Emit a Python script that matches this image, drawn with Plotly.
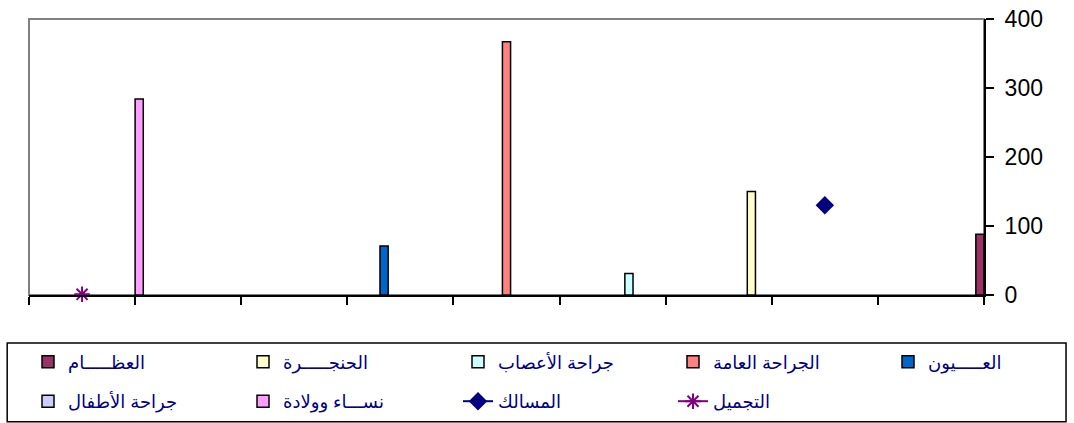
import plotly.graph_objects as go

# ---- data ----
categories = ["1", "2", "3", "4", "5", "6", "7", "8", "9"]

bar_names = ["نســـاء وولادة", "جراحة الأطفال", "العـــــيون", "الجراحة العامة",
             "جراحة الأعصاب", "الحنجـــــرة", "العظـــــام"]
bar_colors = ["#FF9EFF", "#CCCCFF", "#0066CC", "#FF8080", "#CCFFFF", "#FFFFCC", "#993366"]
bar_values = [
    [None, 284, None, None, None, None, None, None, None],   # نساء وولادة
    [None, None, None, None, None, None, None, None, None],  # جراحة الأطفال (no visible bar)
    [None, None, None, 71, None, None, None, None, None],    # العيون
    [None, None, None, None, 367, None, None, None, None],   # الجراحة العامة
    [None, None, None, None, None, 31, None, None, None],    # جراحة الأعصاب
    [None, None, None, None, None, None, 150, None, None],   # الحنجرة
    [None, None, None, None, None, None, None, None, 88],    # العظام
]

line_names = ["المسالك", "التجميل"]
line_colors = ["#000080", "#800080"]
line_symbols = ["diamond", "asterisk-open"]
line_values = [
    [None, None, None, None, None, None, None, 130, None],   # المسالك
    [1, None, None, None, None, None, None, None, None],     # التجميل
]

y_ticks = [0, 100, 200, 300, 400]

# legend placement (legend id, rank) per series
bar_legend = [("legend2", 2), ("legend2", 1), ("legend3", 1), ("legend", 4),
              ("legend", 3), ("legend", 2), ("legend", 1)]
line_legend = [("legend2", 3), ("legend2", 4)]

# ---- figure ----
FONT = "Arial, Liberation Sans, DejaVu Sans, sans-serif"
W, H = 1074, 423
ML, MR, MT, MB = 29.3, 90, 18.5, 128.3
PW, PH = W - ML - MR, H - MT - MB
xpos = list(range(len(categories)))
n_bars = len(bar_names)
slot = 1.0 / (2 * n_bars - 1)

fig = go.Figure()
for k, (name, col, vals) in enumerate(zip(bar_names, bar_colors, bar_values)):
    lg, rank = bar_legend[k]
    fig.add_trace(go.Bar(
        x=xpos, y=vals, name=name,
        width=slot, offset=-0.5 + 2 * k * slot,
        marker=dict(color=col, line=dict(color="black", width=1.5)),
        legend=lg, legendrank=rank,
    ))

for k, (name, col, sym, vals) in enumerate(zip(line_names, line_colors, line_symbols, line_values)):
    lg, rank = line_legend[k]
    fig.add_trace(go.Scatter(
        x=xpos, y=vals, name=name, mode="lines+markers",
        line=dict(color=col, width=2),
        marker=dict(symbol=sym, size=12 if sym == "diamond" else 13, color=col,
                    line=dict(color=col, width=2)),
        legend=lg, legendrank=rank, cliponaxis=False,
    ))

axis_common = dict(showgrid=False, zeroline=False)
leg_common = dict(orientation="h", xref="container", yref="container",
                  xanchor="left", yanchor="middle",
                  entrywidth=170, entrywidthmode="pixels", traceorder="normal",
                  font=dict(size=18, family=FONT, color="#000080"),
                  bgcolor="rgba(0,0,0,0)")
col_w = 215
x_first = 28

def px_x(p):
    return (p - ML) / PW

def px_y(p):
    return (H - MB - p) / PH

fig.update_layout(
    width=W, height=H,
    margin=dict(l=ML, r=MR, t=MT, b=MB, autoexpand=False),
    paper_bgcolor="white", plot_bgcolor="white",
    barmode="overlay",
    font=dict(family=FONT, color="black"),
    xaxis=dict(range=[-0.5, len(categories) - 0.5], tick0=-0.5, dtick=1,
               showticklabels=False, showline=True, linecolor="black", linewidth=2,
               ticks="outside", ticklen=8, tickwidth=2, tickcolor="black",
               fixedrange=True, **axis_common),
    xaxis2=dict(overlaying="x", matches="x", anchor="y", tick0=-0.5, dtick=1,
                showticklabels=False, showline=False,
                ticks="inside", ticklen=8, tickwidth=2, tickcolor="black",
                **axis_common),
    yaxis=dict(side="right", range=[0, 400], tickvals=y_ticks,
               showline=True, linecolor="black", linewidth=2,
               ticks="outside", ticklen=8, tickwidth=2, tickcolor="black",
               tickfont=dict(size=23, family=FONT, color="black"),
               ticklabelstandoff=6, ticklabeloverflow="allow", **axis_common),
    yaxis2=dict(overlaying="y", matches="y", side="right", anchor="x", tickvals=y_ticks,
                showticklabels=False, showline=False,
                ticks="inside", ticklen=8, tickwidth=2, tickcolor="black",
                **axis_common),
    legend=dict(x=x_first / W, y=1 - 362 / H, **leg_common),
    legend3=dict(x=(x_first + 4 * col_w) / W, y=1 - 362 / H, **leg_common),
    legend2=dict(x=x_first / W, y=1 - 401.5 / H, **leg_common),
    shapes=[
        # plot-area frame
        dict(type="rect", xref="paper", yref="paper", x0=0, x1=1, y0=0, y1=1,
             line=dict(color="#808080", width=2), layer="below"),
        # legend frame
        dict(type="rect", xref="paper", yref="paper",
             x0=px_x(7.5), x1=px_x(1066), y0=px_y(421.5), y1=px_y(342.7),
             line=dict(color="black", width=1.5), layer="above"),
    ],
)

fig.write_html("out.html",
               config={"displayModeBar": False},
               post_script="document.body.style.margin='0';document.body.style.padding='0';")
